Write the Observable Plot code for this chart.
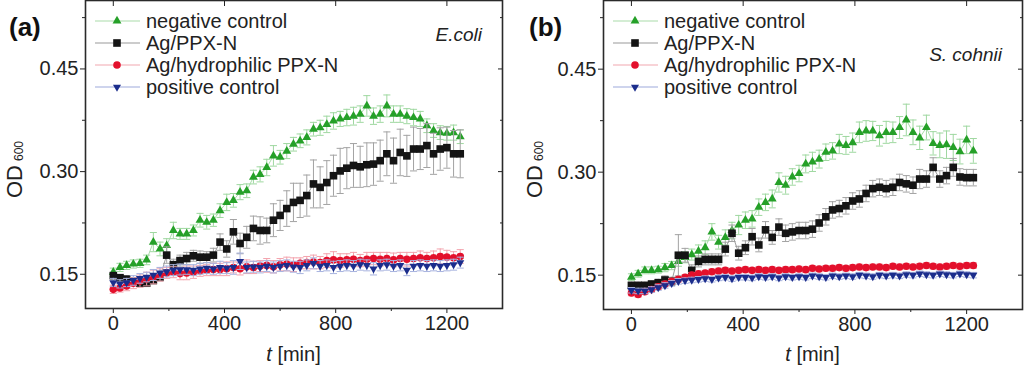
<!DOCTYPE html>
<html><head><meta charset="utf-8">
<script src="https://cdn.jsdelivr.net/npm/d3@7"></script>
<script src="https://cdn.jsdelivr.net/npm/@observablehq/plot@0.6"></script>
<style>
body{margin:0;background:#fff;}
#wrap{display:flex;width:1024px;height:367px;overflow:hidden;}
svg{display:block;}
</style></head><body><div id="wrap"></div>
<script>
// ---------- DATA ----------
const seriesNames = ["negative control", "Ag/PPX-N", "Ag/hydrophilic PPX-N", "positive control"];
const xMajor = [0, 400, 800, 1200];
const xMinor = [200, 600, 1000];
const yMajor = [0.15, 0.30, 0.45];
const yMinor = [0.225, 0.375, 0.525];

const timeA = [0,24,48,72,96,120,144,168,192,216,240,264,288,312,336,360,384,408,432,456,480,504,528,552,576,600,624,648,672,696,720,744,768,792,816,840,864,888,912,936,960,984,1008,1032,1056,1080,1104,1128,1152,1176,1200,1224,1248];
const negA = [0.153,0.160,0.163,0.165,0.166,0.171,0.197,0.187,0.192,0.214,
  0.209,0.209,0.214,0.229,0.226,0.229,0.243,0.255,0.258,0.270,
  0.272,0.292,0.296,0.306,0.323,0.321,0.330,0.340,0.345,0.350,
  0.362,0.364,0.369,0.374,0.377,0.379,0.381,0.384,0.396,0.381,
  0.384,0.396,0.384,0.384,0.381,0.379,0.377,0.367,0.360,0.357,
  0.356,0.357,0.351];
const negErrA = [0.006,0.006,0.006,0.006,0.006,0.007,0.014,0.010,0.010,0.012,
  0.008,0.008,0.008,0.010,0.010,0.009,0.010,0.012,0.010,0.011,
  0.010,0.010,0.011,0.012,0.015,0.010,0.011,0.010,0.010,0.011,
  0.010,0.011,0.012,0.012,0.011,0.012,0.013,0.012,0.015,0.012,
  0.012,0.016,0.012,0.012,0.011,0.012,0.011,0.010,0.010,0.010,
  0.010,0.011,0.010];
const agA = [0.148,0.145,0.143,0.140,0.137,0.137,0.141,0.146,0.178,0.164,
  0.170,0.173,0.177,0.175,0.175,0.178,0.197,0.187,0.212,0.195,
  0.204,0.217,0.214,0.214,0.229,0.236,0.246,0.255,0.258,0.265,
  0.282,0.277,0.284,0.294,0.301,0.305,0.309,0.307,0.310,0.311,
  0.316,0.326,0.316,0.328,0.323,0.333,0.333,0.338,0.326,0.333,
  0.335,0.326,0.326];
const agErrA = [0.004,0.004,0.004,0.005,0.005,0.005,0.005,0.006,0.012,0.008,
  0.008,0.009,0.008,0.009,0.008,0.010,0.012,0.012,0.018,0.015,
  0.016,0.018,0.020,0.018,0.024,0.022,0.026,0.028,0.025,0.030,
  0.035,0.030,0.032,0.030,0.033,0.030,0.032,0.030,0.032,0.031,
  0.030,0.032,0.033,0.034,0.030,0.032,0.030,0.032,0.030,0.031,
  0.030,0.034,0.035];
const hydA = [0.128,0.130,0.133,0.137,0.140,0.143,0.146,0.149,0.152,0.153,
  0.151,0.152,0.153,0.155,0.156,0.157,0.157,0.158,0.160,0.158,
  0.161,0.160,0.162,0.163,0.161,0.164,0.165,0.164,0.166,0.167,
  0.168,0.167,0.170,0.171,0.170,0.171,0.172,0.170,0.172,0.173,
  0.172,0.173,0.171,0.173,0.172,0.173,0.174,0.173,0.174,0.176,
  0.175,0.174,0.176];
const hydErrA = [0.006,0.006,0.007,0.008,0.009,0.010,0.010,0.009,0.008,0.008,
  0.009,0.010,0.009,0.008,0.008,0.009,0.009,0.010,0.008,0.009,
  0.010,0.009,0.008,0.010,0.009,0.009,0.010,0.010,0.008,0.009,
  0.010,0.009,0.010,0.012,0.010,0.009,0.010,0.009,0.010,0.009,
  0.010,0.009,0.010,0.009,0.010,0.009,0.010,0.009,0.010,0.011,
  0.010,0.009,0.010];
const posA = [0.138,0.136,0.138,0.141,0.144,0.146,0.149,0.152,0.154,0.156,
  0.157,0.157,0.156,0.158,0.159,0.158,0.160,0.159,0.160,0.169,
  0.160,0.161,0.160,0.162,0.160,0.162,0.163,0.161,0.160,0.163,
  0.166,0.162,0.163,0.160,0.162,0.163,0.162,0.164,0.163,0.158,
  0.163,0.164,0.162,0.163,0.156,0.162,0.163,0.162,0.163,0.162,
  0.163,0.164,0.167];
const posErrA = [0.006,0.006,0.006,0.007,0.007,0.007,0.008,0.008,0.008,0.008,
  0.008,0.007,0.008,0.008,0.008,0.008,0.009,0.008,0.010,0.012,
  0.008,0.008,0.008,0.008,0.008,0.008,0.008,0.008,0.009,0.008,
  0.008,0.008,0.008,0.009,0.008,0.008,0.008,0.008,0.008,0.009,
  0.008,0.008,0.008,0.008,0.008,0.008,0.008,0.008,0.008,0.008,
  0.008,0.008,0.008];

const timeB = [0,24,48,72,96,120,144,168,192,216,240,264,288,312,336,360,384,408,432,456,480,504,528,552,576,600,624,648,672,696,720,744,768,792,816,840,864,888,912,936,960,984,1008,1032,1056,1080,1104,1128,1152,1176,1200,1224];
const negB = [0.147,0.152,0.157,0.157,0.158,0.161,0.164,0.170,0.176,0.180,
  0.185,0.190,0.213,0.198,0.205,0.215,0.223,0.230,0.232,0.249,
  0.256,0.261,0.285,0.281,0.293,0.298,0.312,0.315,0.319,0.329,
  0.331,0.341,0.339,0.343,0.358,0.360,0.360,0.353,0.358,0.358,
  0.365,0.376,0.358,0.350,0.365,0.342,0.339,0.340,0.336,0.330,
  0.347,0.331];
const negErrB = [0.005,0.005,0.005,0.005,0.005,0.006,0.006,0.007,0.008,0.008,
  0.009,0.010,0.012,0.010,0.011,0.012,0.014,0.012,0.012,0.012,
  0.012,0.013,0.014,0.013,0.012,0.012,0.013,0.014,0.013,0.012,
  0.012,0.014,0.013,0.014,0.015,0.015,0.014,0.015,0.016,0.015,
  0.016,0.023,0.018,0.017,0.018,0.017,0.018,0.020,0.019,0.018,
  0.020,0.018];
const agB = [0.135,0.135,0.135,0.137,0.139,0.143,0.141,0.179,0.179,0.157,
  0.170,0.173,0.173,0.173,0.188,0.211,0.182,0.190,0.206,0.194,
  0.216,0.205,0.220,0.211,0.213,0.215,0.215,0.217,0.226,0.235,
  0.245,0.247,0.251,0.258,0.261,0.269,0.276,0.278,0.276,0.278,
  0.285,0.283,0.281,0.290,0.290,0.307,0.290,0.295,0.307,0.293,
  0.292,0.292];
const agErrB = [0.005,0.005,0.005,0.005,0.005,0.006,0.006,0.030,0.010,0.008,
  0.008,0.008,0.008,0.008,0.010,0.012,0.010,0.010,0.012,0.010,
  0.012,0.010,0.012,0.012,0.012,0.012,0.012,0.012,0.012,0.012,
  0.012,0.012,0.012,0.012,0.012,0.012,0.012,0.012,0.012,0.012,
  0.012,0.012,0.012,0.014,0.012,0.014,0.012,0.012,0.013,0.012,
  0.012,0.012];
const hydB = [0.124,0.122,0.126,0.129,0.133,0.137,0.141,0.144,0.147,0.150,
  0.152,0.153,0.155,0.156,0.157,0.156,0.157,0.158,0.157,0.158,
  0.157,0.158,0.157,0.158,0.158,0.159,0.158,0.160,0.159,0.160,
  0.160,0.161,0.160,0.161,0.162,0.161,0.162,0.162,0.161,0.163,
  0.162,0.163,0.162,0.163,0.164,0.163,0.162,0.163,0.164,0.163,
  0.164,0.164];
const hydErrB = [0.004,0.004,0.004,0.004,0.004,0.004,0.004,0.004,0.004,0.004,
  0.004,0.004,0.004,0.004,0.004,0.004,0.004,0.004,0.004,0.004,
  0.004,0.004,0.004,0.004,0.004,0.004,0.004,0.004,0.004,0.004,
  0.004,0.004,0.004,0.004,0.004,0.004,0.004,0.004,0.004,0.004,
  0.004,0.004,0.004,0.004,0.004,0.004,0.004,0.004,0.004,0.004,
  0.004,0.004];
const posB = [0.128,0.127,0.127,0.129,0.132,0.135,0.138,0.141,0.142,0.143,
  0.144,0.145,0.144,0.146,0.147,0.145,0.147,0.147,0.146,0.148,
  0.147,0.148,0.146,0.148,0.147,0.148,0.147,0.149,0.148,0.147,
  0.149,0.148,0.149,0.148,0.150,0.149,0.148,0.150,0.149,0.150,
  0.149,0.151,0.150,0.152,0.151,0.150,0.152,0.151,0.150,0.152,
  0.151,0.150];
const posErrB = [0.004,0.004,0.004,0.004,0.004,0.004,0.004,0.004,0.004,0.004,
  0.004,0.004,0.004,0.004,0.004,0.004,0.004,0.004,0.004,0.004,
  0.004,0.004,0.004,0.004,0.004,0.004,0.004,0.004,0.004,0.004,
  0.004,0.004,0.004,0.004,0.004,0.004,0.004,0.004,0.004,0.004,
  0.004,0.004,0.004,0.004,0.004,0.004,0.004,0.004,0.004,0.004,
  0.004,0.004];

// ---------- STYLE ----------
const FONT = "'Liberation Sans', Arial, Helvetica, sans-serif";
const sqrt3 = Math.sqrt(3);
const symTriUp = {draw(c, s) {const y = -Math.sqrt(s / (sqrt3 * 3)); c.moveTo(0, y * 2); c.lineTo(-sqrt3 * y, -y); c.lineTo(sqrt3 * y, -y); c.closePath();}};
const symTriDown = {draw(c, s) {const y = Math.sqrt(s / (sqrt3 * 3)); c.moveTo(0, y * 2); c.lineTo(-sqrt3 * y, -y); c.lineTo(sqrt3 * y, -y); c.closePath();}};
const symCap = {draw(c, s) {const w = Math.sqrt(s); c.moveTo(-w, 0); c.lineTo(w, 0);}};
const styles = [
  {color: "#25a028", err: "#9fd8a0", line: "#a9dcaa", sym: symTriUp, d3sym: symTriUp, r: 3.3},
  {color: "#141414", err: "#a3a3a3", line: "#9a9a9a", sym: "square", d3sym: d3.symbolSquare, r: 4.3},
  {color: "#e3102c", err: "#f3a3ad", line: "#f2a7b0", sym: "circle", d3sym: d3.symbolCircle, r: 3.8},
  {color: "#1b2d8c", err: "#a8b3df", line: "#9eaadb", sym: symTriDown, d3sym: symTriDown, r: 3.0}
];

function rows(time, vals, errs) {
  return time.map((t, j) => ({t, v: vals[j], lo: vals[j] - errs[j], hi: vals[j] + errs[j]}));
}

function panel(cfg) {
  const marks = [
    Plot.axisX({ticks: xMajor, tickSize: 5, tickPadding: 2, tickFormat: d => String(d), label: null, fontSize: 20}),
    Plot.axisX({ticks: xMinor, tickSize: 3, tickFormat: () => "", label: null}),
    Plot.axisX({anchor: "top", ticks: xMajor, tickSize: 5, dy: 5, tickFormat: () => "", label: null}),
    Plot.axisY({ticks: yMajor, tickSize: 5, tickPadding: 2, tickFormat: d => d.toFixed(2), label: null, fontSize: 20}),
    Plot.axisY({ticks: yMinor, tickSize: 3, tickFormat: () => "", label: null}),
    Plot.axisY({anchor: "right", ticks: yMajor, tickSize: 5, dx: -5, tickFormat: () => "", label: null}),
    Plot.axisY({anchor: "right", ticks: yMinor, tickSize: 3, dx: -3, tickFormat: () => "", label: null})
  ];
  cfg.series.forEach((data, i) => {
    const st = styles[i];
    marks.push(
      Plot.ruleX(data, {x: "t", y1: "lo", y2: "hi", stroke: st.err, strokeWidth: 1}),
      Plot.dot(data, {x: "t", y: "hi", symbol: symCap, r: 2, stroke: st.err, fill: "none", strokeWidth: 1}),
      Plot.dot(data, {x: "t", y: "lo", symbol: symCap, r: 2, stroke: st.err, fill: "none", strokeWidth: 1}),
      Plot.line(data, {x: "t", y: "v", stroke: st.line, strokeWidth: 1}),
      Plot.dot(data, {x: "t", y: "v", symbol: st.sym, r: st.r, fill: st.color, stroke: "none"})
    );
  });
  marks.push(Plot.frame({stroke: "#2a2a2a", strokeWidth: 1.6}));
  const svg = Plot.plot({
    width: 512, height: 367,
    marginLeft: cfg.ml, marginRight: cfg.mr, marginTop: 0, marginBottom: cfg.mb,
    x: {domain: [-100, 1400]},
    y: {domain: [0.1, 0.55]},
    style: {fontFamily: FONT, fontSize: "20px", color: "#222", background: "#fff", overflow: "hidden"},
    marks
  });
  const s = d3.select(svg);
  const ml = cfg.ml;
  // panel label
  s.append("text").attr("x", cfg.panelX).attr("y", 36).attr("text-anchor", "start").attr("font-family", FONT)
    .attr("font-size", 26).attr("font-weight", "bold").attr("fill", "#111").text(cfg.panel);
  // species label
  s.append("text").attr("x", cfg.speciesX).attr("y", cfg.speciesY).attr("text-anchor", "end")
    .attr("font-family", FONT).attr("font-size", 19).attr("font-style", "italic").attr("fill", "#222").text(cfg.species);
  // y label OD600
  const yl = s.append("text").attr("transform", `translate(${cfg.ylX},198) rotate(-90)`).attr("text-anchor", "start")
    .attr("font-family", FONT).attr("font-size", 22).attr("fill", "#222");
  yl.append("tspan").text("OD");
  yl.append("tspan").attr("font-size", 12).attr("dx", 4).attr("dy", 1).text("600");
  // x label
  const xl = s.append("text").attr("x", ml + (512 - ml - cfg.mr) / 2).attr("y", 361).attr("text-anchor", "middle")
    .attr("font-family", FONT).attr("font-size", 20).attr("fill", "#222");
  xl.append("tspan").attr("font-style", "italic").text("t");
  xl.append("tspan").text(" [min]");
  // legend
  seriesNames.forEach((name, i) => {
    const st = styles[i];
    const cy = 21 + i * 22;
    s.append("line").attr("x1", ml + 10).attr("x2", ml + 55).attr("y1", cy).attr("y2", cy)
      .attr("stroke", st.line).attr("stroke-width", 1.2);
    s.append("path").attr("d", d3.symbol(st.d3sym, Math.PI * st.r * st.r)())
      .attr("transform", `translate(${ml + 32},${cy})`).attr("fill", st.color);
    s.append("text").attr("x", ml + 61).attr("y", cy + 7).attr("text-anchor", "start").attr("font-family", FONT)
      .attr("font-size", 20).attr("fill", "#222").text(name);
  });
  return svg;
}

const wrap = document.getElementById("wrap");
wrap.appendChild(panel({
  ml: 85, mr: 10, mb: 59, panel: "(a)", panelX: 9, species: "E.coli", speciesX: 482, speciesY: 41, ylX: 22,
  series: [rows(timeA, negA, negErrA), rows(timeA, agA, agErrA), rows(timeA, hydA, hydErrA), rows(timeA, posA, posErrA)]
}));
wrap.appendChild(panel({
  ml: 91, mr: 2, mb: 58, panel: "(b)", panelX: 17, species: "S. cohnii", speciesX: 490, speciesY: 61, ylX: 30,
  series: [rows(timeB, negB, negErrB), rows(timeB, agB, agErrB), rows(timeB, hydB, hydErrB), rows(timeB, posB, posErrB)]
}));
</script></body></html>
